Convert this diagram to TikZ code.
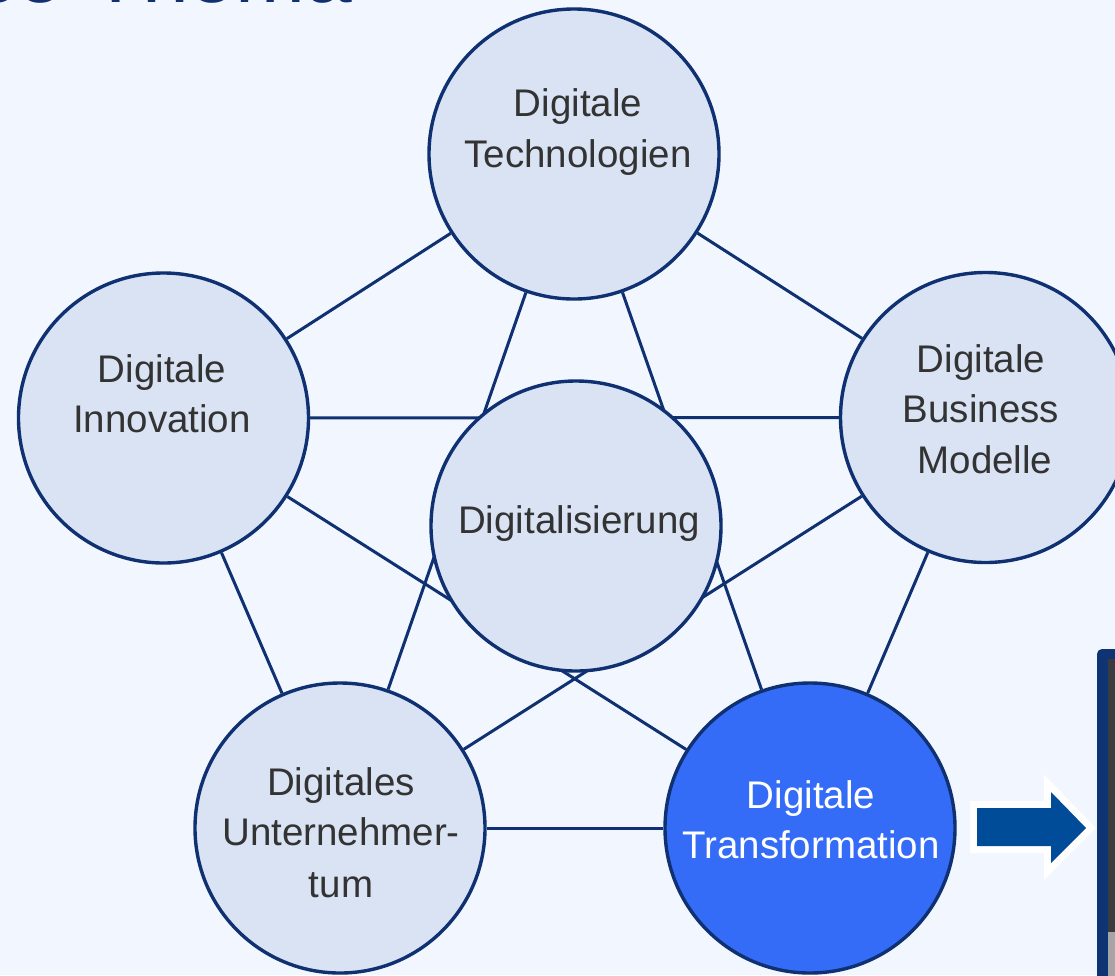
\documentclass[tikz,border=0pt]{standalone}
\usepackage{fontspec}
\setmainfont{Liberation Sans}
\pgfdeclarelayer{bgfill}
\pgfdeclarelayer{links}
\pgfsetlayers{bgfill,links,main}
\definecolor{pagebg}{HTML}{F2F6FE}
\definecolor{navy}{HTML}{0F3172}
\definecolor{bubfill}{HTML}{D9E3F3}
\definecolor{trfill}{HTML}{356CF7}
\definecolor{txtgray}{HTML}{333333}
\definecolor{arrowblue}{HTML}{004C99}
\definecolor{panelnavy}{HTML}{0E3474}
\definecolor{paneldark}{HTML}{3A3B40}
\definecolor{panelgray}{HTML}{A5A5A8}
\tikzset{
  bub/.style={circle, draw=navy, line width=3.4pt, fill=bubfill, minimum size=290pt, inner sep=0pt},
  lbl/.style={font=\fontsize{38.5}{50}\selectfont, text=txtgray, inner sep=0pt, anchor=base},
  link/.style={draw=navy, line width=3pt}
}
\begin{document}
\begin{tikzpicture}[x=1pt,y=-1pt]
\useasboundingbox (0,0) rectangle (1115,975);
\clip (0,0) rectangle (1115,975);
\begin{pgfonlayer}{bgfill}
\fill[pagebg] (0,0) rectangle (1115,975);
\end{pgfonlayer}

% title fragment (cut off at the top edge, as in the reference)
\node[font=\fontsize{84}{84}\selectfont, text=navy, anchor=base west, inner sep=0pt] (title) at (-26,2) {se-Thema};

% bubbles
\node[bub] (tech) at (574,154) {};
\node[bub] (inno) at (163.5,418) {};
\node[bub] (bm) at (985.5,417.5) {};
\node[bub] (unt) at (340,828) {};
\node[bub, fill=trfill] (tr) at (810,828) {};
\node[bub] (dig) at (576,526) {};

\begin{pgfonlayer}{links}
\draw[link] (tech) -- (inno);
\draw[link] (tech) -- (bm);
\draw[link] (inno) -- (bm);
\draw[link] (tech) -- (unt);
\draw[link] (tech) -- (tr);
\draw[link] (inno) -- (tr);
\draw[link] (bm) -- (unt);
\draw[link] (inno) -- (unt);
\draw[link] (bm) -- (tr);
\draw[link] (unt) -- (tr);
\end{pgfonlayer}

% labels
\node[lbl] (techA) at (578,116) {Digitale};
\node[lbl] (techB) at (578,167) {Technologien};
\node[lbl] (innoA) at (162,382) {Digitale};
\node[lbl] (innoB) at (162,432) {Innovation};
\node[lbl] (bmA) at (981,372) {Digitale};
\node[lbl] (bmB) at (981,422) {Business};
\node[lbl] (bmC) at (985,473) {Modelle};
\node[lbl] (digA) at (579,533) {Digitalisierung};
\node[lbl] (untA) at (341,795) {Digitales};
\node[lbl] (untB) at (341,845) {Unternehmer-};
\node[lbl] (untC) at (341,897) {tum};
\node[lbl, text=white] (trA) at (811,808) {Digitale};
\node[lbl, text=white] (trB) at (811,858) {Transformation};

% block arrow
\draw[white, line width=14pt, line join=miter, fill=white]
  (977,808) -- (1051,808) -- (1051,792) -- (1086,828) -- (1051,863) -- (1051,846) -- (977,846) -- cycle;
\fill[arrowblue]
  (977,808) -- (1051,808) -- (1051,792) -- (1086,828) -- (1051,863) -- (1051,846) -- (977,846) -- cycle;

% screenshot panel at right edge
\fill[panelnavy, rounded corners=5pt] (1097,649) rectangle (1145,995);
\fill[paneldark] (1108,659) rectangle (1145,932);
\fill[panelgray] (1108,932) rectangle (1145,995);
\end{tikzpicture}
\end{document}
